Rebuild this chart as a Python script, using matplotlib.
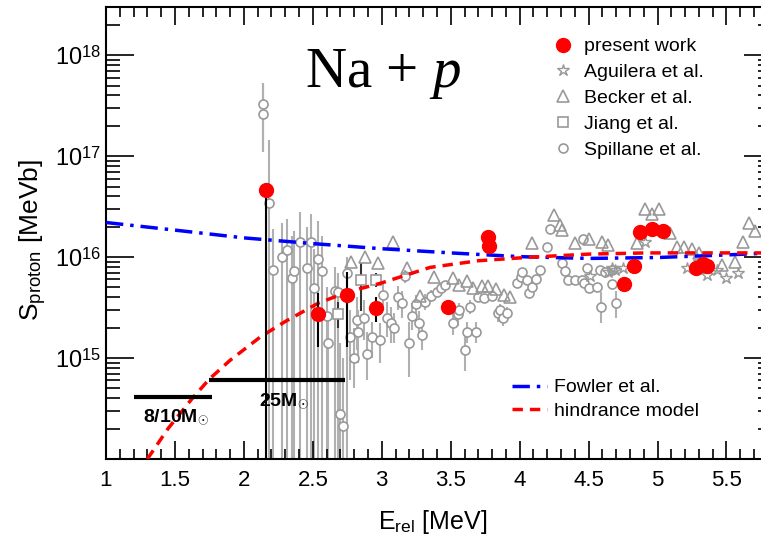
import numpy as np
import matplotlib
matplotlib.use("Agg")
import matplotlib.pyplot as plt
from matplotlib.ticker import FixedLocator, MultipleLocator, NullFormatter, LogLocator

plt.rcParams['font.family'] = ['Liberation Sans', 'DejaVu Sans']
plt.rcParams['mathtext.fontset'] = 'custom'
plt.rcParams['mathtext.rm'] = 'Liberation Sans'
plt.rcParams['mathtext.bf'] = 'Liberation Sans:bold'
plt.rcParams['mathtext.it'] = 'Liberation Serif:italic'

# present work
E_pw = [2.16, 2.54, 2.75, 2.96, 3.48, 3.77, 3.78, 4.76, 4.83, 4.87, 4.96, 5.04, 5.28, 5.33, 5.36]
S_pw = [4.6e16, 2.75e15, 4.2e15, 3.1e15, 3.2e15, 1.58e16, 1.3e16, 5.4e15, 8.1e15,
        1.77e16, 1.88e16, 1.8e16, 7.8e15, 8.6e15, 8.1e15]
S_pw_lo = [1e13, 1.3e15, 1.3e15, 2.3e15, 2.9e15, 1.45e16, 1.2e16, 5.0e15, 7.5e15,
           1.65e16, 1.75e16, 1.7e16, 7.3e15, 8.0e15, 7.6e15]
S_pw_hi = [4.6e16, 4.4e15, 7.1e15, 4.0e15, 3.5e15, 1.7e16, 1.4e16, 5.8e15, 8.7e15,
           1.9e16, 2.0e16, 1.9e16, 8.3e15, 9.2e15, 8.6e15]

# Spillane et al.
E_sp = [2.14, 2.14, 2.18, 2.21, 2.28, 2.31, 2.35, 2.36, 2.41, 2.46, 2.49, 2.51, 2.54, 2.57,
        2.60, 2.61, 2.66, 2.68, 2.70, 2.72, 2.75, 2.77, 2.80, 2.82, 2.83, 2.87, 2.89, 2.93,
        2.99, 3.01, 3.04, 3.07, 3.09, 3.12, 3.15, 3.17, 3.20, 3.22, 3.25, 3.27, 3.29, 3.31,
        3.36, 3.40, 3.43, 3.46, 3.52, 3.55, 3.56, 3.60, 3.62, 3.64, 3.68, 3.70, 3.74, 3.80,
        3.84, 3.86, 3.88, 3.91, 3.98, 4.01, 4.02, 4.05, 4.07, 4.09, 4.12, 4.15, 4.20, 4.22,
        4.31, 4.33, 4.35, 4.40, 4.45, 4.46, 4.47, 4.49, 4.50, 4.56, 4.58, 4.59, 4.62, 4.67,
        4.67, 4.70]
S_sp = [2.6e17, 3.3e17, 3.4e16, 7.5e15, 1.0e16, 1.17e16, 6.2e15, 7.3e15, 1.4e16, 7.8e15,
        1.4e16, 4.9e15, 9.6e15, 7.3e15, 2.6e15, 1.4e15, 4.6e15, 4.5e15, 2.8e14, 2.1e14,
        6.9e15, 1.6e15, 1.0e15, 2.4e15, 1.8e15, 2.5e15, 1.1e15, 1.6e15, 1.5e15, 4.2e15,
        2.5e15, 2.2e15, 2.0e15, 4.0e15, 3.5e15, 6.5e15, 1.4e15, 2.6e15, 3.4e15, 2.2e15,
        1.7e15, 3.6e15, 4.1e15, 4.5e15, 4.9e15, 5.3e15, 2.2e15, 2.7e15, 3.0e15, 1.2e15,
        1.8e15, 3.2e15, 1.8e15, 4.0e15, 3.9e15, 4.1e15, 2.8e15, 3.0e15, 2.5e15, 2.8e15,
        5.5e15, 6.4e15, 7.1e15, 5.9e15, 4.4e15, 5.1e15, 6.1e15, 7.5e15, 1.26e16, 1.9e16,
        8.7e15, 7.3e15, 5.9e15, 5.9e15, 5.9e15, 1.5e16, 5.5e15, 7.8e15, 4.9e15, 5.1e15,
        7.4e15, 3.2e15, 7.1e15, 7.4e15, 5.4e15, 3.5e15]
S_sp_lo = [1.1e17, 1.1e17, 1e13, 1e13, 1e13, 1e13, 1e13, 1e13, 1e13, 1e13,
           1e13, 1e13, 1e13, 1e13, 1e13, 1e13, 1e13, 1e13, 1e13, 1e13,
           1e13, 6e14, 5e14, 1.2e15, 9e14, 1.5e15, 6e14, 1.0e15, 9e14, 3.0e15,
           1.6e15, 1.4e15, 1.4e15, 3.0e15, 2.5e15, 5.5e15, 6.5e14, 1.9e15, 2.7e15, 1.6e15,
           1.2e15, 3.0e15, 3.6e15, 4.0e15, 4.4e15, 4.8e15, 1.7e15, 2.1e15, 2.5e15, 7.5e14,
           1.4e15, 2.7e15, 1.4e15, 3.6e15, 3.5e15, 3.7e15, 2.3e15, 2.6e15, 2.1e15, 2.4e15,
           5.0e15, 5.9e15, 6.6e15, 5.4e15, 4.0e15, 4.6e15, 5.6e15, 7.0e15, 1.15e16, 1.75e16,
           8.0e15, 6.8e15, 5.4e15, 5.4e15, 5.4e15, 1.4e16, 5.0e15, 7.2e15, 4.5e15, 4.7e15,
           6.8e15, 2.2e15, 6.5e15, 6.8e15, 4.9e15, 2.5e15]
S_sp_hi = [5.3e17, 5.3e17, 1.45e17, 1.9e16, 2.2e16, 2.4e16, 1.6e16, 1.8e16, 2.8e16, 2.0e16,
           2.7e16, 1.2e16, 2.3e16, 1.6e16, 5.0e15, 2.5e15, 8.0e15, 7.0e15, 1.4e15, 1.0e15,
           1.0e16, 3.0e15, 2.0e15, 4.0e15, 3.0e15, 3.8e15, 1.8e15, 2.3e15, 2.2e15, 5.5e15,
           3.6e15, 3.2e15, 2.8e15, 5.2e15, 4.6e15, 7.5e15, 2.3e15, 3.5e15, 4.2e15, 2.9e15,
           2.3e15, 4.3e15, 4.7e15, 5.0e15, 5.4e15, 5.8e15, 2.8e15, 3.3e15, 3.5e15, 1.6e15,
           2.3e15, 3.8e15, 2.3e15, 4.5e15, 4.3e15, 4.5e15, 3.3e15, 3.4e15, 3.0e15, 3.2e15,
           6.0e15, 7.0e15, 7.7e15, 6.4e15, 4.9e15, 5.6e15, 6.6e15, 8.1e15, 1.37e16, 2.05e16,
           9.4e15, 7.9e15, 6.4e15, 6.4e15, 6.4e15, 1.6e16, 6.0e15, 8.4e15, 5.3e15, 5.5e15,
           8.0e15, 4.5e15, 7.7e15, 8.0e15, 5.9e15, 4.6e15]

# Becker et al.
E_be = [2.78, 2.88, 2.97, 3.08, 3.18, 3.28, 3.38, 3.52, 3.56, 3.62, 3.66, 3.73, 3.77, 3.83,
        3.89, 3.93, 4.09, 4.25, 4.29, 4.31, 4.40, 4.50, 4.60, 4.64, 4.85, 4.91, 4.96, 5.01,
        5.09, 5.14, 5.19, 5.25, 5.30, 5.47, 5.56, 5.62, 5.66, 5.71]
S_be = [8.9e15, 1.0e16, 8.7e15, 1.4e16, 7.8e15, 4.1e15, 6.3e15, 6.2e15, 5.3e15, 5.8e15,
        4.9e15, 5.2e15, 5.2e15, 4.8e15, 4.2e15, 4.0e15, 1.37e16, 2.6e16, 2.1e16, 1.85e16,
        1.37e16, 1.5e16, 1.4e16, 1.32e16, 1.38e16, 3.0e16, 2.7e16, 3.0e16, 1.74e16, 1.26e16,
        1.26e16, 1.2e16, 1.1e16, 8.3e15, 8.9e15, 1.4e16, 2.2e16, 1.8e16]

# Jiang et al.
E_ji = [2.68, 2.85, 2.96]
S_ji = [2.7e15, 5.9e15, 5.9e15]
S_ji_lo = [2.0e15, 2.9e15, 5.0e15]
S_ji_hi = [3.6e15, 8.7e15, 7.0e15]

# Aguilera et al.
E_ag = [4.51, 4.64, 4.67, 4.69, 4.75, 4.91, 5.21, 5.30, 5.36, 5.43, 5.50, 5.58]
S_ag = [6.5e15, 7.1e15, 7.8e15, 7.4e15, 7.8e15, 1.4e16, 7.8e15, 9.0e15, 6.6e15, 7.4e15,
        6.2e15, 6.9e15]

# Fowler et al. curve
E_fo = [1.0, 1.5, 2.0, 2.5, 3.0, 3.5, 4.0, 4.5, 5.0, 5.5, 5.83]
S_fo = [2.2e16, 1.85e16, 1.55e16, 1.36e16, 1.21e16, 1.1e16, 1.01e16, 0.97e16, 0.99e16,
        1.05e16, 1.1e16]

# hindrance model curve
E_hi = [1.30, 1.45, 1.62, 1.75, 1.9, 2.12, 2.3, 2.54, 2.75, 2.99, 3.35, 3.7, 4.09, 4.5,
        4.92, 5.3, 5.83]
S_hi = [1.0e14, 2.0e14, 3.9e14, 6.2e14, 9.5e14, 1.62e15, 2.3e15, 3.5e15, 4.5e15, 5.5e15,
        7.9e15, 9.2e15, 1.0e16, 1.07e16, 1.1e16, 1.1e16, 1.1e16]

# stellar burning ranges
bar_E = [(1.20, 1.77), (1.75, 2.73)]
bar_S = [4.1e14, 6.0e14]
bar_labels = [r"8/10M$_{\odot}$", r"25M$_{\odot}$"]
bar_label_pos = [(1.27, 2.6e14), (2.11, 3.7e14)]

gray = '#999999'
gray_err = '#b0b0b0'

fig = plt.figure(figsize=(7.61, 5.35), dpi=100)
ax = fig.add_axes([106/761, 76/535, 666/761, 452/535])

def asym(S, lo, hi):
    S = np.array(S); lo = np.array(lo); hi = np.array(hi)
    return [S - lo, hi - S]

ax.errorbar(E_sp, S_sp, yerr=asym(S_sp, S_sp_lo, S_sp_hi), fmt='none', ecolor=gray_err,
            elinewidth=1.5, zorder=1)
ax.plot(E_sp, S_sp, 'o', mfc='white', mec=gray, mew=1.2, ms=6.5, zorder=2, label='Spillane et al.')
ax.plot(E_be, S_be, '^', mfc='none', mec=gray, mew=1.2, ms=8, zorder=2, label='Becker et al.')
ax.errorbar(E_ji, S_ji, yerr=asym(S_ji, S_ji_lo, S_ji_hi), fmt='none', ecolor='#333333',
            elinewidth=1.5, zorder=1)
ax.plot(E_ji, S_ji, 's', mfc='white', mec=gray, mew=1.2, ms=7, zorder=2, label='Jiang et al.')
ax.plot(E_ag, S_ag, '*', mfc='none', mec=gray, mew=1.0, ms=9, zorder=2, label='Aguilera et al.')

ax.plot(E_fo, S_fo, color='blue', ls=(0, (5, 2, 1, 2)), lw=2.5, zorder=3, label='Fowler et al.')
ax.plot(E_hi, S_hi, color='red', ls=(0, (3, 2)), lw=2.5, zorder=3, label='hindrance model')

ax.errorbar(E_pw, S_pw, yerr=asym(S_pw, S_pw_lo, S_pw_hi), fmt='none', ecolor='black',
            elinewidth=1.5, zorder=4)
ax.plot(E_pw, S_pw, 'o', color='red', ms=10, zorder=5, label='present work')

for (e0, e1), s, lab, pos in zip(bar_E, bar_S, bar_labels, bar_label_pos):
    ax.plot([e0, e1], [s, s], color='black', lw=3, solid_capstyle='butt', zorder=6)
    ax.text(pos[0], pos[1], lab, fontsize=14, fontweight='bold', ha='left', va='center')

ax.set_yscale('log')
ax.set_xlim(1, 5.83)
ax.set_ylim(1e14, 3e18)

ax.xaxis.set_minor_locator(MultipleLocator(0.1))
ax.set_xticks([1, 1.5, 2, 2.5, 3, 3.5, 4, 4.5, 5, 5.5])
ax.set_xticklabels(['1', '1.5', '2', '2.5', '3', '3.5', '4', '4.5', '5', '5.5'])
ax.yaxis.set_major_locator(FixedLocator([1e14, 1e15, 1e16, 1e17, 1e18]))
ax.set_yticklabels(['', r'$10^{15}$', r'$10^{16}$', r'$10^{17}$', r'$10^{18}$'])
ax.yaxis.set_minor_locator(LogLocator(base=10, subs=np.arange(2, 10)))
ax.yaxis.set_minor_formatter(NullFormatter())

ax.tick_params(which='both', direction='in', top=True, right=True, width=1.2, labelsize=16)
ax.tick_params(axis='y', which='major', length=20, labelsize=17)
ax.tick_params(axis='y', which='minor', length=10)
ax.tick_params(axis='x', which='major', length=13, pad=8)
ax.tick_params(axis='x', which='minor', length=7)
for sp in ax.spines.values():
    sp.set_linewidth(1.5)

ax.set_xlabel(r'E$_{\rm rel}$ [MeV]', fontsize=18)
ax.xaxis.set_label_coords((433 - 106) / 666, -(508 - 459) / 452)
ax.set_ylabel(r'S$_{\rm proton}$ [MeVb]', fontsize=19)
ax.yaxis.set_label_coords(-(106 - 49) / 666, (459 - 240) / 452)

ax.text((305 - 106) / 666, (459 - 87) / 452, r'Na + $\mathit{p}$', transform=ax.transAxes,
        fontsize=41, family='Liberation Serif', ha='left', va='baseline')

h, l = ax.get_legend_handles_labels()
d = dict(zip(l, h))
order1 = ['present work', 'Aguilera et al.', 'Becker et al.', 'Jiang et al.', 'Spillane et al.']
leg1 = ax.legend([d[k] for k in order1], order1, loc='upper left',
                 bbox_to_anchor=(539/761, 1 - 28/535), bbox_transform=fig.transFigure,
                 frameon=False, fontsize=14, labelspacing=0.43, handletextpad=0.3,
                 handlelength=1.5, borderpad=0)
ax.add_artist(leg1)
order2 = ['Fowler et al.', 'hindrance model']
ax.legend([d[k] for k in order2], order2, loc='upper left',
          bbox_to_anchor=(502/761, 1 - 369/535), bbox_transform=fig.transFigure,
          frameon=False, fontsize=14, labelspacing=0.3, handletextpad=0.35,
          handlelength=1.8, borderpad=0)

fig.savefig('out.png', dpi=100)
